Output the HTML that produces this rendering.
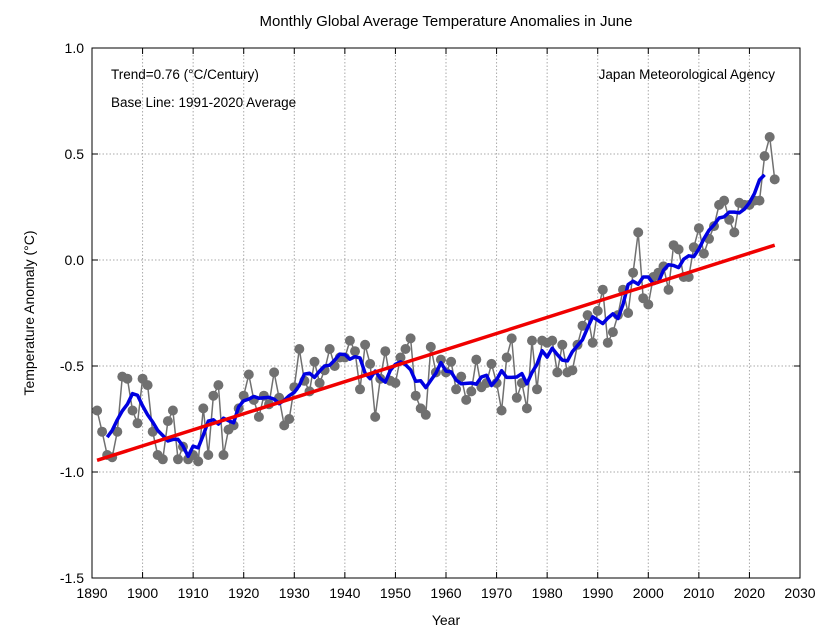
<!DOCTYPE html>
<html><head><meta charset="utf-8"><style>
body{margin:0;background:#fff}
svg text{font-family:"Liberation Sans",sans-serif;fill:#000}
</style></head><body>
<svg id="s" width="829" height="632" xmlns="http://www.w3.org/2000/svg">
<rect width="829" height="632" fill="#fff"/>
<text x="446" y="26" font-size="15" text-anchor="middle">Monthly Global Average Temperature Anomalies in June</text>
<g id="grid" stroke="#aaa" stroke-width="1" stroke-dasharray="1.5,2"></g>
<rect x="92" y="48" width="708" height="530" fill="none" stroke="#000" stroke-width="1"/>
<g id="ticks" font-size="14"></g>
<text x="111" y="79" font-size="13.5">Trend=0.76 (°C/Century)</text>
<text x="111" y="107" font-size="13.5">Base Line: 1991-2020 Average</text>
<text x="775" y="79" font-size="13.5" text-anchor="end">Japan Meteorological Agency</text>
<text x="446" y="625" font-size="14" text-anchor="middle">Year</text>
<text transform="translate(34,313) rotate(-90)" font-size="14" text-anchor="middle">Temperature Anomaly (°C)</text>
<g id="data"></g>
</svg>
<script>
var X=function(y){return 92+(y-1890)*708/140},Y=function(v){return 260-v*212};
var g=document.getElementById('grid'),t=document.getElementById('ticks'),h='',k='';
for(var yr=1900;yr<2030;yr+=10)h+='<line x1="'+X(yr)+'" y1="48" x2="'+X(yr)+'" y2="578"/>';
for(var v=-1;v<1;v+=0.5)h+='<line x1="92" y1="'+Y(v)+'" x2="800" y2="'+Y(v)+'"/>';
g.innerHTML=h;
for(var yr=1890;yr<=2030;yr+=10){k+='<text x="'+X(yr)+'" y="598" text-anchor="middle">'+yr+'</text><line x1="'+X(yr)+'" y1="578" x2="'+X(yr)+'" y2="572" stroke="#000"/><line x1="'+X(yr)+'" y1="48" x2="'+X(yr)+'" y2="54" stroke="#000"/>';}
[1,0.5,0,-0.5,-1,-1.5].forEach(function(v){k+='<text x="84" y="'+(Y(v)+5)+'" text-anchor="end">'+v.toFixed(1)+'</text><line x1="92" y1="'+Y(v)+'" x2="98" y2="'+Y(v)+'" stroke="#000"/><line x1="800" y1="'+Y(v)+'" x2="794" y2="'+Y(v)+'" stroke="#000"/>';});
t.innerHTML=k;
var d=[-0.71,-0.81,-0.92,-0.93,-0.81,-0.55,-0.56,-0.71,-0.77,-0.56,-0.59,-0.81,-0.92,-0.94,-0.76,-0.71,-0.94,-0.88,-0.94,-0.92,-0.95,-0.70,-0.92,-0.64,-0.59,-0.92,-0.80,-0.78,-0.70,-0.64,-0.54,-0.66,-0.74,-0.64,-0.68,-0.53,-0.65,-0.78,-0.75,-0.60,-0.42,-0.57,-0.62,-0.48,-0.58,-0.52,-0.42,-0.50,-0.46,-0.46,-0.38,-0.43,-0.61,-0.40,-0.49,-0.74,-0.56,-0.43,-0.57,-0.58,-0.46,-0.42,-0.37,-0.64,-0.70,-0.73,-0.41,-0.53,-0.47,-0.53,-0.48,-0.61,-0.55,-0.66,-0.62,-0.47,-0.60,-0.58,-0.49,-0.58,-0.71,-0.46,-0.37,-0.65,-0.58,-0.70,-0.38,-0.61,-0.38,-0.39,-0.38,-0.53,-0.40,-0.53,-0.52,-0.40,-0.31,-0.26,-0.39,-0.24,-0.14,-0.39,-0.34,-0.26,-0.14,-0.25,-0.06,0.13,-0.18,-0.21,-0.08,-0.06,-0.03,-0.14,0.07,0.05,-0.08,-0.08,0.06,0.15,0.03,0.10,0.16,0.26,0.28,0.19,0.13,0.27,0.26,0.26,0.28,0.28,0.49,0.58,0.38];
var p='',c='',m='';
d.forEach(function(v,i){var yr=1891+i;p+=(i?'L':'M')+X(yr).toFixed(1)+' '+Y(v).toFixed(1);c+='<circle cx="'+X(yr).toFixed(1)+'" cy="'+Y(v).toFixed(1)+'" r="5" fill="#707070"/>';
if(i>=2&&i<d.length-2){var s=(d[i-2]+d[i-1]+v+d[i+1]+d[i+2])/5;m+=(m?'L':'M')+X(yr).toFixed(1)+' '+Y(s).toFixed(1);}});
document.getElementById('data').innerHTML='<path d="'+p+'" fill="none" stroke="#707070" stroke-width="1.5"/>'+c+
'<path d="'+m+'" fill="none" stroke="#0000e0" stroke-width="3.5" stroke-linejoin="round"/>'+
'<line x1="'+X(1891)+'" y1="'+Y(-0.945)+'" x2="'+X(2025)+'" y2="'+Y(0.07)+'" stroke="#f00000" stroke-width="3.5"/>';
</script>
</body></html>
